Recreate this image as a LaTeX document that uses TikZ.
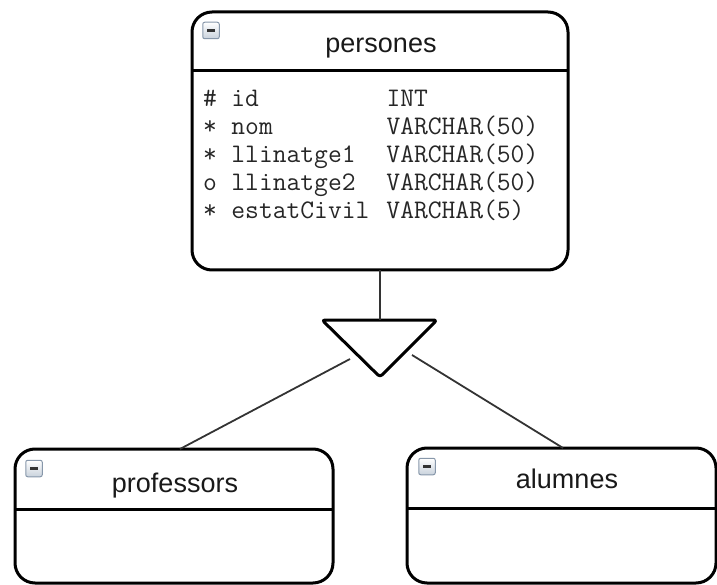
\documentclass[tikz,border=0pt]{standalone}
\usepackage{fontspec}
\setmainfont{Liberation Sans}
\definecolor{iconborder}{HTML}{8797AA}
\definecolor{iconfill}{HTML}{C9D2DC}
\definecolor{connline}{HTML}{333333}
\begin{document}
\begin{tikzpicture}[x=1pt,y=-1pt,
  entity/.style={draw=black, line width=3pt, rounded corners=20pt, outer sep=0pt, inner sep=0pt},
  divider/.style={line width=3pt},
  conn/.style={draw=connline, line width=1.8pt},
  titletext/.style={font=\fontsize{27}{27}\selectfont, anchor=base, inner sep=0pt, text=black!90},
  attr/.style={font=\ttfamily\fontsize{26.8}{26.8}\selectfont, anchor=base west, inner sep=0pt, text=black!85},
  icon/.style={minimum size=16.5pt, inner sep=0pt, rounded corners=2pt, draw=iconborder, line width=1pt,
    top color=white, bottom color=iconfill,
    path picture={\draw[line width=2.2pt, black!80] ([xshift=4.5pt]path picture bounding box.west) -- ([xshift=-4.5pt]path picture bounding box.east);}}
]
\useasboundingbox (0,0) rectangle (717,585);

% entities
\node[entity, minimum width=376pt, minimum height=258pt] (ptop) at (380,141) {};
\draw[divider] ([yshift=-59pt]ptop.north west) -- ([yshift=-59pt]ptop.north east);
\node[entity, minimum width=318pt, minimum height=134pt] (prof) at (174,516) {};
\draw[divider] ([yshift=-60pt]prof.north west) -- ([yshift=-60pt]prof.north east);
\node[entity, minimum width=309pt, minimum height=135pt] (alum) at (561.5,515.5) {};
\draw[divider] ([yshift=-60pt]alum.north west) -- ([yshift=-60pt]alum.north east);

% icons
\node[icon] (ic1) at (211,30.5) {};
\node[icon] (ic2) at (34,468.5) {};
\node[icon] (ic3) at (427,466.5) {};

% titles
\node[titletext] (t1) at (381,53) {persones};
\node[titletext] (t2) at (175,492) {professors};
\node[titletext] (t3) at (567,488) {alumnes};

% attributes
\node[attr] (r1) at (203,106.5) {\makebox[28.2pt][l]{\#}\makebox[155.1pt][l]{id}INT};
\node[attr] (r2) at (203,134.4) {\makebox[28.2pt][l]{*}\makebox[155.1pt][l]{nom}VARCHAR(50)};
\node[attr] (r3) at (203,162.3) {\makebox[28.2pt][l]{*}\makebox[155.1pt][l]{llinatge1}VARCHAR(50)};
\node[attr] (r4) at (203,190.2) {\makebox[28.2pt][l]{o}\makebox[155.1pt][l]{llinatge2}VARCHAR(50)};
\node[attr] (r5) at (203,218.1) {\makebox[28.2pt][l]{*}\makebox[155.1pt][l]{estatCivil}VARCHAR(5)};

% ISA triangle
\coordinate (ta) at (322,320);
\coordinate (tb) at (437,320);
\coordinate (tc) at (380,377);
\coordinate (tri) at (380,320);
\draw[line width=3pt, rounded corners=3pt, line join=round] (ta) -- (tb) -- (tc) -- cycle;

% connectors
\coordinate (tl) at (350,359);
\coordinate (tr) at (412,355);
\draw[conn] (ptop.south) -- (tri);
\draw[conn] (tl) -- ([xshift=6pt]prof.north);
\draw[conn] (tr) -- ([xshift=1.5pt]alum.north);
\end{tikzpicture}
\end{document}
